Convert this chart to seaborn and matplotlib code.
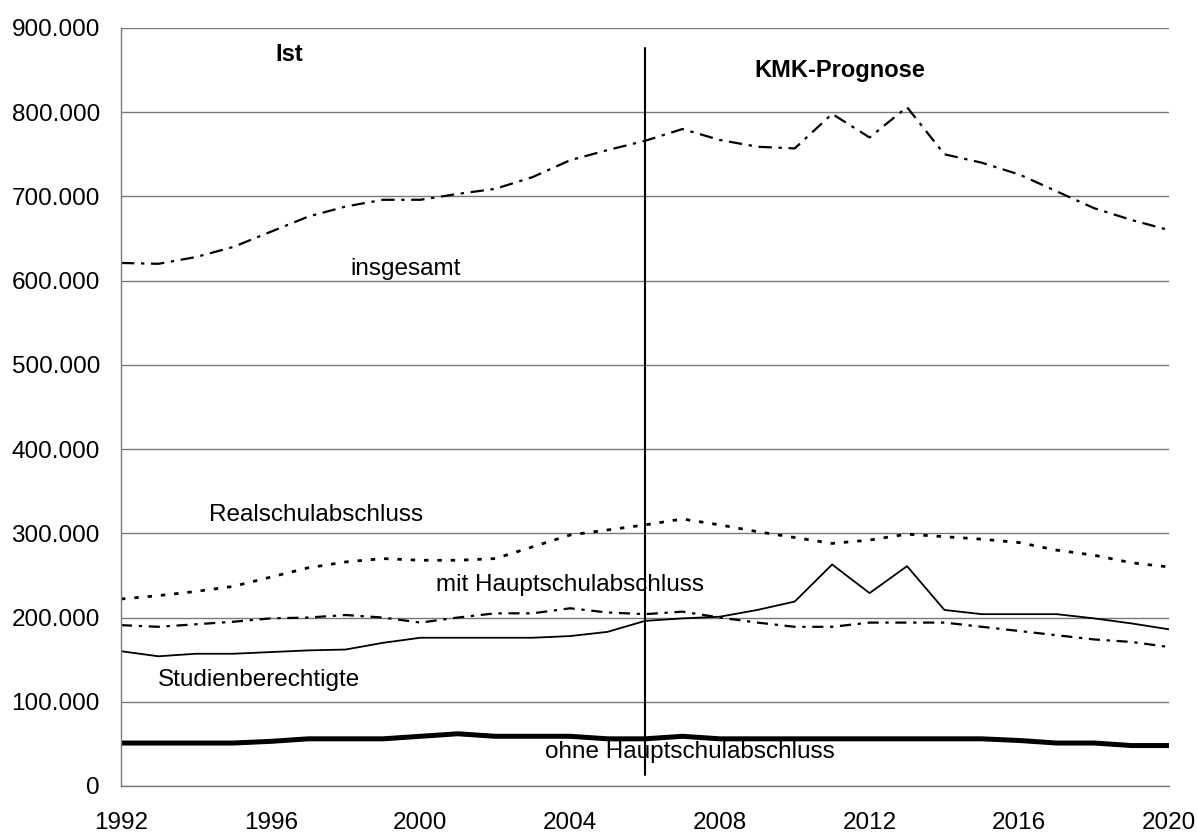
import numpy as np
import pandas as pd
import matplotlib
matplotlib.use("Agg")
import matplotlib.pyplot as plt
import seaborn as sns
from matplotlib.ticker import FuncFormatter, MultipleLocator

# Schulabgänger nach Abschlussart, Ist und KMK-Prognose
jahre = list(range(1992, 2021))

insgesamt = [621000, 620000, 628000, 640000, 658000, 676000, 688000, 696000, 696000,
             703000, 709000, 723000, 743000, 755000, 766000, 780000, 767000, 759000,
             757000, 798000, 770000, 806000, 750000, 740000, 726000, 706000, 686000,
             672000, 660000]

realschule = [222000, 226000, 231000, 237000, 248000, 259000, 266000, 270000, 268000,
              268000, 270000, 284000, 298000, 304000, 310000, 317000, 310000, 302000,
              295000, 288000, 292000, 299000, 296000, 293000, 289000, 280000, 274000,
              265000, 260000]

mit_haupt = [191000, 189000, 192000, 195000, 199000, 200000, 203000, 200000, 194000,
             200000, 205000, 205000, 211000, 206000, 204000, 207000, 200000, 194000,
             189000, 189000, 194000, 194000, 194000, 189000, 184000, 179000, 174000,
             171000, 165000]

studienber = [160000, 154000, 157000, 157000, 159000, 161000, 162000, 170000, 176000,
              176000, 176000, 176000, 178000, 183000, 196000, 199000, 201000, 209000,
              219000, 263000, 229000, 261000, 209000, 204000, 204000, 204000, 199000,
              193000, 186000]

ohne_haupt = [51000, 51000, 51000, 51000, 53000, 56000, 56000, 56000, 59000,
              62000, 59000, 59000, 59000, 56000, 56000, 59000, 56000, 56000,
              56000, 56000, 56000, 56000, 56000, 56000, 54000, 51000, 51000,
              48000, 48000]

PROGNOSE_START = 2006

df = pd.DataFrame({
    "Jahr": jahre,
    "insgesamt": insgesamt,
    "Realschulabschluss": realschule,
    "mit Hauptschulabschluss": mit_haupt,
    "Studienberechtigte": studienber,
    "ohne Hauptschulabschluss": ohne_haupt,
})

sns.set_style("white")
plt.rcParams["font.family"] = ["Liberation Sans", "DejaVu Sans"]
plt.rcParams["text.color"] = "black"

fig = plt.figure(figsize=(11.98, 8.35), dpi=100)
ax = fig.add_axes([0.101, 0.0587, 0.8748, 0.9078])

styles = {
    "insgesamt": dict(linestyle=(0, (6, 3, 1.5, 3)), linewidth=1.6),
    "Realschulabschluss": dict(linestyle=(0, (1.6, 3.2)), linewidth=2.0),
    "mit Hauptschulabschluss": dict(linestyle=(0, (5, 3, 1.5, 3)), linewidth=1.6),
    "Studienberechtigte": dict(linestyle="-", linewidth=1.3),
    "ohne Hauptschulabschluss": dict(linestyle="-", linewidth=3.6),
}

for name, kw in styles.items():
    sns.lineplot(data=df, x="Jahr", y=name, color="black", ax=ax, **kw)

ax.plot([PROGNOSE_START, PROGNOSE_START], [13000, 876000], color="black", lw=1.5)

ax.set_xlim(1992, 2020)
ax.set_ylim(0, 900000)
ax.xaxis.set_major_locator(MultipleLocator(4))
ax.xaxis.set_minor_locator(MultipleLocator(1))
ax.yaxis.set_major_locator(MultipleLocator(100000))
ax.yaxis.set_major_formatter(FuncFormatter(lambda v, p: f"{int(v):,}".replace(",", ".")))
ax.set_xlabel("")
ax.set_ylabel("")

ax.grid(axis="y", color="#7a7a7a", lw=1.0)
ax.set_axisbelow(True)
for s in ["top", "right"]:
    ax.spines[s].set_visible(False)
for s in ["left", "bottom"]:
    ax.spines[s].set_color("#7a7a7a")
    ax.spines[s].set_linewidth(1.0)

ax.tick_params(axis="both", which="both", direction="out", length=5.8, width=1,
               color="#7a7a7a", labelsize=17.5, labelcolor="black")
ax.tick_params(axis="y", pad=9.4)
ax.tick_params(axis="x", which="major", pad=13)

fs = 17.5
ax.text(1996.5, 868000, "Ist", fontsize=17, fontweight="bold", ha="center", va="center")
ax.text(2011.2, 850000, "KMK-Prognose", fontsize=17, fontweight="bold", ha="center", va="center")
ax.text(1999.6, 614000, "insgesamt", fontsize=fs, ha="center", va="center")
ax.text(1997.2, 322000, "Realschulabschluss", fontsize=fs, ha="center", va="center")
ax.text(2004.0, 239000, "mit Hauptschulabschluss", fontsize=fs, ha="center", va="center")
ax.text(1995.7, 126000, "Studienberechtigte", fontsize=fs, ha="center", va="center")
ax.text(2007.2, 40000, "ohne Hauptschulabschluss", fontsize=fs, ha="center", va="center")

fig.savefig("out.png", dpi=100)
